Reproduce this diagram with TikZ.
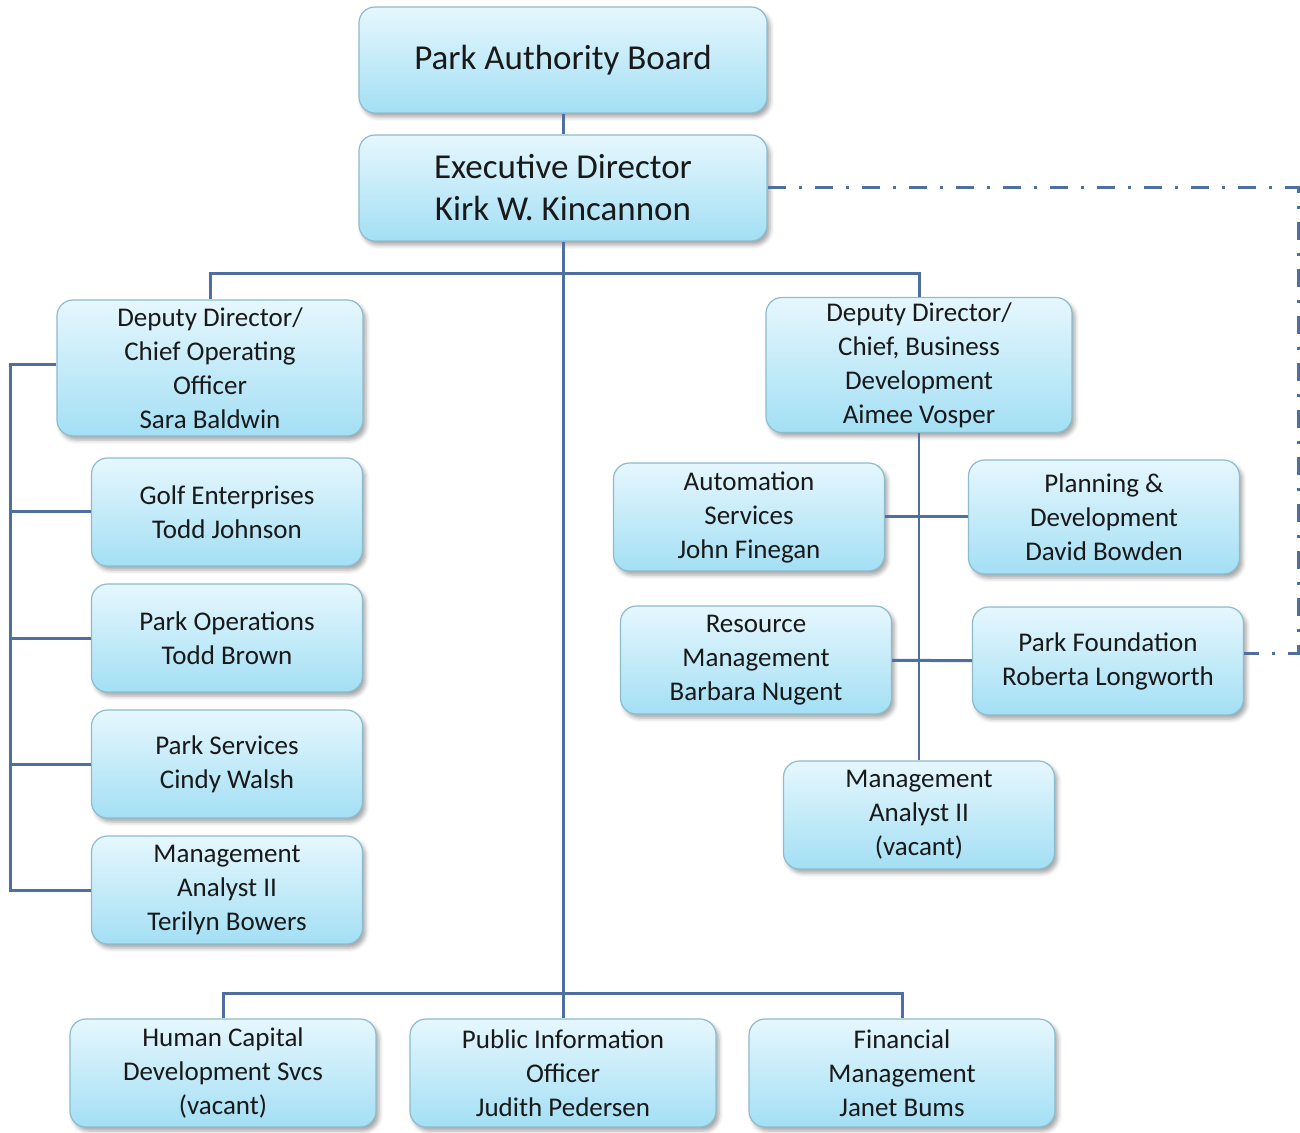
\documentclass[tikz,border=0pt]{standalone}
\usepackage{fontspec}
\setmainfont{Carlito}
\usetikzlibrary{shadows.blur}

\definecolor{boxtop}{HTML}{E6F7FD}
\definecolor{boxbot}{HTML}{A3DFF4}
\definecolor{boxline}{HTML}{8CBCCD}
\definecolor{link}{HTML}{4E6FA0}

\begin{document}
\begin{tikzpicture}[x=0.5pt,y=-0.5pt,node distance=63pt,
    unit/.style={rounded corners=8pt,draw=boxline,line width=0.6pt,top color=boxtop,bottom color=boxbot,
        align=center,inner sep=1pt,text=black!90,font=\fontsize{13.5}{17}\selectfont,
        minimum width=135.5pt,minimum height=54pt,
        blur shadow={shadow xshift=1.5pt,shadow yshift=-2pt,shadow blur radius=2pt,shadow opacity=35}},
    head/.style={unit,font=\fontsize{17.5}{21}\selectfont,minimum width=204pt,minimum height=53pt},
    wide/.style={minimum width=153pt},
    tree/.style={draw=link,line width=1.5pt},
    liaison/.style={draw=link,line width=1.5pt,dash pattern=on 9pt off 6.5pt on 1.5pt off 6.5pt}]
    \useasboundingbox (0,0) rectangle (1300,1133);

    % top of the chart
    \node[head] (board) at (563,60) {Park Authority Board};
    \node[head] (exec) at (563,188) {Executive Director\\Kirk W. Kincannon};

    % operations side
    \node[unit,wide,minimum height=68pt] (coo) at (210,368) {Deputy Director/\\Chief Operating\\Officer\\Sara Baldwin};
    \node[unit] (golf) at (227,512) {Golf Enterprises\\Todd Johnson};
    \node[unit] (parkops) [below of=golf] {Park Operations\\Todd Brown};
    \node[unit] (parkserv) [below of=parkops] {Park Services\\Cindy Walsh};
    \node[unit] (analystA) [below of=parkserv] {Management\\Analyst II\\Terilyn Bowers};

    % business side
    \node[unit,wide,minimum height=67.5pt] (biz) at (919,365) {Deputy Director/\\Chief, Business\\Development\\Aimee Vosper};
    \node[unit] (autom) at (749,517) {Automation\\Services\\John Finegan};
    \node[unit,minimum height=57pt] (planning) at (1104,517) {Planning \&\\Development\\David Bowden};
    \node[unit] (resource) at (756,660) {Resource\\Management\\Barbara Nugent};
    \node[unit] (foundation) at (1108,661) {Park Foundation\\Roberta Longworth};
    \node[unit] (analystB) at (919,815) {Management\\Analyst II\\(vacant)};

    % staff offices
    \node[unit,wide] (hcds) at (223,1073) {Human Capital\\Development Svcs\\(vacant)};
    \node[unit,wide] (pio) [right of=hcds,node distance=170pt] {Public Information\\Officer\\Judith Pedersen};
    \node[unit,wide] (finance) [right of=pio,node distance=169.5pt] {Financial\\Management\\Janet Bums};

    \coordinate (split) at (563,274);
    \coordinate (bus) at (563,993);
    \coordinate (rail) at (10,365);
    \coordinate (corner) at (1298,653);

    \path[tree]
        (board) edge (exec)
        (autom) edge (planning)
        (resource) edge (foundation)
    ;
    \draw[tree] (exec.south) -- (bus);
    \draw[tree] (coo.north) |- (split) -| (biz.north);
    \draw[tree] (hcds.north) |- (bus) -| (finance.north);
    \draw[tree] (bus) -- (pio.north);
    \draw[tree] (coo.west |- rail) -- (rail) |- (analystA.west);
    \draw[tree] (golf.west) -- (golf.west -| rail);
    \draw[tree] (parkops.west) -- (parkops.west -| rail);
    \draw[tree] (parkserv.west) -- (parkserv.west -| rail);
    \draw[draw=link,line width=0.6pt] (biz.south) -- (analystB.north);
    \draw[liaison] (exec.east) -| (corner) -- (corner -| foundation.east);
\end{tikzpicture}
\end{document}
